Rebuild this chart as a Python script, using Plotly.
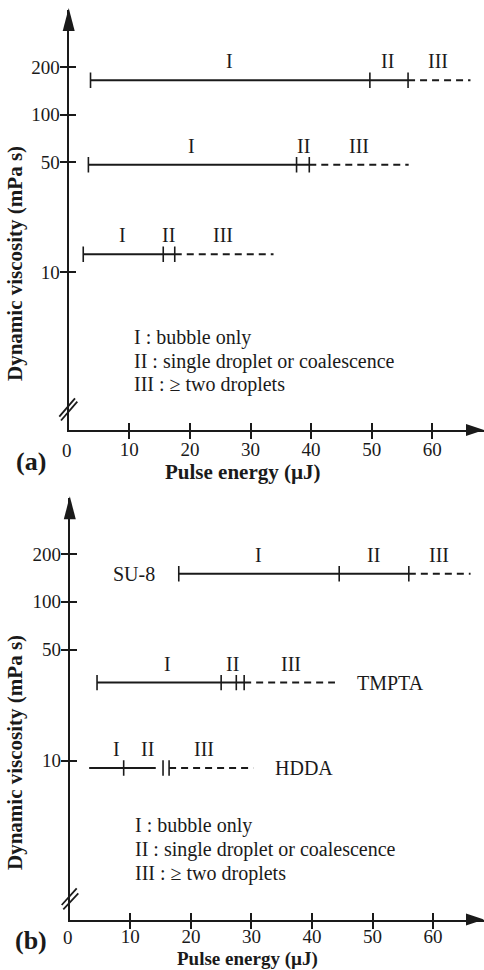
import plotly.graph_objects as go
import math

W, H = 484, 970

# ---------------- data ----------------
regimes = ["I", "II", "III"]

# panel (a)
visc_a = [165, 48, 13]
solid_start_a = [3.6, 3.25, 2.4]
solid_end_a = [56.0, 39.7, 17.5]
dash_end_a = [66.3, 56.1, 33.8]
ticks_a = [[3.6, 49.7, 56.0], [3.25, 37.6, 39.7], [2.4, 15.6, 17.5]]
label_x_a = [[26.6, 52.6, 60.9], [20.3, 38.7, 47.9], [8.9, 16.4, 25.4]]

# panel (b)
materials_b = ["SU-8", "TMPTA", "HDDA"]
visc_b = [150, 31, 9]
solid_start_b = [18.0, 4.5, 3.2]
solid_end_b = [56.0, 28.8, 14.2]
dash_start_b = [56.0, 28.8, 16.4]
dash_end_b = [66.2, 43.8, 30.3]
ticks_b = [[18.0, 44.5, 56.0], [4.5, 25.0, 27.5, 28.8], [8.9, 15.4, 16.4]]
label_x_b = [[31.2, 50.2, 61.0], [16.1, 26.8, 36.5], [7.7, 12.8, 22.2]]
name_side_b = ["left", "right", "right"]

x_tickvals = [10, 20, 30, 40, 50, 60]
y_tickvals = [10, 50, 100, 200]

legend_lines = ["I : bubble only", "II : single droplet or coalescence", "III : \u2265 two droplets"]

FONT = "Liberation Serif, Times New Roman, serif"


def px(x):
    return x / W


def py(y):
    return 1 - y / H


fig = go.Figure()

BLACK = "#1a1a1a"


def add_rows(xa, ya, visc, s0, s1, d0, d1, ticks, labx):
    for i, v in enumerate(visc):
        fig.add_trace(go.Scatter(x=[s0[i], s1[i]], y=[v, v], mode="lines",
                                 line=dict(color=BLACK, width=2), xaxis=xa, yaxis=ya,
                                 showlegend=False, hoverinfo="skip"))
        fig.add_trace(go.Scatter(x=[d0[i], d1[i]], y=[v, v], mode="lines",
                                 line=dict(color=BLACK, width=2, dash="7px,5px"), xaxis=xa, yaxis=ya,
                                 showlegend=False, hoverinfo="skip"))
        fig.add_trace(go.Scatter(x=ticks[i], y=[v] * len(ticks[i]), mode="markers",
                                 marker=dict(symbol="line-ns", size=11, line=dict(color=BLACK, width=1.6)),
                                 xaxis=xa, yaxis=ya, showlegend=False, hoverinfo="skip"))
        for j, r in enumerate(regimes):
            fig.add_annotation(x=labx[i][j], y=math.log10(v), xref=xa, yref=ya, text=r,
                               showarrow=False, yshift=19, xanchor="center", yanchor="middle",
                               font=dict(family=FONT, size=20, color=BLACK))


add_rows("x", "y", visc_a, solid_start_a, solid_end_a, solid_end_a, dash_end_a, ticks_a, label_x_a)
add_rows("x2", "y2", visc_b, solid_start_b, solid_end_b, dash_start_b, dash_end_b, ticks_b, label_x_b)

for i, m in enumerate(materials_b):
    if name_side_b[i] == "left":
        fig.add_annotation(x=solid_start_b[i], y=math.log10(visc_b[i]), xref="x2", yref="y2", text=m,
                           showarrow=False, xanchor="right", yanchor="middle", xshift=-22,
                           font=dict(family=FONT, size=20, color=BLACK))
    else:
        fig.add_annotation(x=dash_end_b[i], y=math.log10(visc_b[i]), xref="x2", yref="y2", text=m,
                           showarrow=False, xanchor="left", yanchor="middle", xshift=20,
                           font=dict(family=FONT, size=20, color=BLACK))

# ---------------- axes ----------------
panels = {
    "a": dict(x0=68.7, xs=6.06, ybot=430.1, ytop=10.0, dec=157.8, xstand=-6),
    "b": dict(x0=69.8, xs=6.054, ybot=919.6, ytop=498.3, dec=158.9, xstand=-9),
}

common_x = dict(showgrid=False, zeroline=False, showline=True, linecolor=BLACK, linewidth=2.2,
                ticks="outside", ticklen=7, tickwidth=1.6, tickcolor=BLACK, tickvals=x_tickvals,
                tickfont=dict(family=FONT, size=19, color=BLACK))
common_y = dict(type="log", showgrid=False, zeroline=False, showline=True, linecolor=BLACK, linewidth=2.2,
                ticks="outside", ticklen=7, tickwidth=1.6, tickcolor=BLACK, tickvals=y_tickvals,
                ticktext=[str(t) for t in y_tickvals], ticklabelstandoff=-4,
                tickfont=dict(family=FONT, size=19, color=BLACK))

lay = {}
for k, (xn, yn, xo, yo) in {"a": ("xaxis", "yaxis", "xaxis3", "yaxis3"),
                            "b": ("xaxis2", "yaxis2", "xaxis4", "yaxis4")}.items():
    p = panels[k]
    xr = [0, (W - p["x0"]) / p["xs"]]
    yr = [0, (p["ybot"] - p["ytop"]) / p["dec"]]
    xdom = [p["x0"] / W, 1]
    ydom = [py(p["ybot"]), py(p["ytop"])]
    xid = "x" if k == "a" else "x2"
    yid = "y" if k == "a" else "y2"
    lay[xn] = dict(common_x, domain=xdom, range=xr, anchor=yid, ticklabelstandoff=p["xstand"])
    lay[yn] = dict(common_y, domain=ydom, range=yr, anchor=xid)
    lay[xo] = dict(domain=xdom, range=xr, anchor=yid, overlaying=xid, showgrid=False, zeroline=False,
                   showline=False, ticks="inside", ticklen=7, tickwidth=1.6, tickcolor=BLACK,
                   tickvals=x_tickvals, showticklabels=False)
    lay[yo] = dict(type="log", domain=ydom, range=yr, anchor=xid, overlaying=yid, showgrid=False,
                   zeroline=False, showline=False, ticks="inside", ticklen=7, tickwidth=1.6,
                   tickcolor=BLACK, tickvals=y_tickvals, showticklabels=False)

fig.update_layout(**lay)

# dummy invisible traces so overlay axes render
for xo, yo in [("x3", "y"), ("x", "y3"), ("x4", "y2"), ("x2", "y4")]:
    fig.add_trace(go.Scatter(x=[10], y=[10], xaxis=xo, yaxis=yo, mode="markers",
                             marker=dict(opacity=0), showlegend=False, hoverinfo="skip"))

shapes = []
for k in ["a", "b"]:
    p = panels[k]
    ax = p["x0"]
    # top arrow
    shapes.append(dict(type="path", xref="paper", yref="paper", fillcolor=BLACK, line=dict(width=0),
                       path=f"M{px(ax)},{py(p['ytop'] - 2)} L{px(ax - 6)},{py(p['ytop'] + 21)} "
                            f"L{px(ax + 6)},{py(p['ytop'] + 21)} Z"))
    # right arrow
    yb = p["ybot"]
    shapes.append(dict(type="path", xref="paper", yref="paper", fillcolor=BLACK, line=dict(width=0),
                       path=f"M{px(W)},{py(yb)} L{px(W - 18)},{py(yb - 6)} L{px(W - 18)},{py(yb + 6)} Z"))

# axis-break slashes
breaks = {"a": [((59.3, 416.7), (75, 398.3)), ((61, 420.5), (77.3, 401.7))],
          "b": [((61.7, 905), (76.7, 888.3)), ((63.3, 909.3), (78.3, 893.3))]}
for k, segs in breaks.items():
    for (a0, a1) in segs:
        shapes.append(dict(type="line", xref="paper", yref="paper", x0=px(a0[0]), y0=py(a0[1]),
                           x1=px(a1[0]), y1=py(a1[1]), line=dict(color=BLACK, width=1.8)))
fig.update_layout(shapes=shapes)


# text annotations in paper coords
def ann(x, y, text, size, xanchor="center", **kw):
    fig.add_annotation(x=px(x), y=py(y), xref="paper", yref="paper", text=text, showarrow=False,
                       xanchor=xanchor, yanchor="middle",
                       font=dict(family=FONT, size=size, color=BLACK), **kw)


for k, (ytitle_c, xtitle, xt_size, lab, labpos, zero, leg_y, leg_x) in {
    "a": (264, (243, 472), 21, "(a)", (30.5, 461), (66.7, 450), [337, 361, 385], 131.7),
    "b": (753, (247.7, 959), 19, "(b)", (31.3, 940), (67.5, 937), [825, 849.3, 873.3], 132.7),
}.items():
    ann(15, ytitle_c, "<b>Dynamic viscosity (mPa s)</b>", 21, textangle=-90)
    ann(xtitle[0], xtitle[1], "<b>Pulse energy (\u00b5J)</b>", xt_size)
    ann(labpos[0], labpos[1], f"<b>{lab}</b>", 26)
    ann(zero[0], zero[1], "0", 19)
    for t, yy in zip(legend_lines, leg_y):
        ann(leg_x, yy, t, 20, xanchor="left")

fig.update_layout(width=W, height=H, margin=dict(l=0, r=0, t=0, b=0), paper_bgcolor="white",
                  plot_bgcolor="white", showlegend=False)

fig.write_html("out.html")
